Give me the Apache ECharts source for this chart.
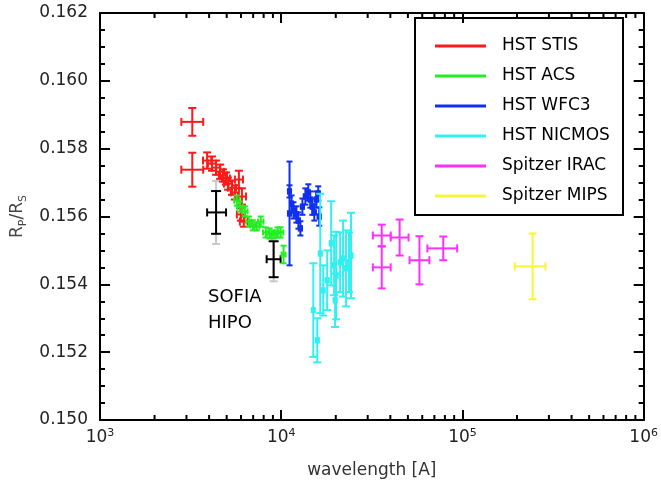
<!DOCTYPE html>
<html>
<head>
<meta charset="utf-8">
<script src="https://cdn.jsdelivr.net/npm/echarts@6/dist/echarts.min.js"></script>
<style>html,body{margin:0;padding:0;background:#fff}#c{width:661px;height:492px}</style>
</head>
<body>
<div id="c"></div>
<script>
// each point: [wavelength, wavelength low, wavelength high, Rp/Rs, Rp/Rs error]
const stisPoints = [
  [3230, 2810, 3710, 0.15879, 0.00041],
  [3230, 2810, 3710, 0.15738, 0.00050],
  [3900, 3700, 4110, 0.15765, 0.00024],
  [4150, 3940, 4370, 0.15756, 0.00021],
  [4370, 4150, 4600, 0.15744, 0.00021],
  [4600, 4370, 4840, 0.15732, 0.00021],
  [4770, 4530, 5020, 0.15721, 0.00018],
  [4960, 4710, 5220, 0.15712, 0.00018],
  [5080, 4830, 5350, 0.15697, 0.00018],
  [5350, 5080, 5630, 0.15685, 0.00021],
  [5840, 5550, 6150, 0.15709, 0.00026],
  [5550, 5270, 5840, 0.15671, 0.00021],
  [6070, 5770, 6390, 0.15659, 0.00024],
  [5990, 5690, 6310, 0.15606, 0.00018],
  [6220, 5910, 6550, 0.15585, 0.00015]
];
const acsPoints = [
  [5690, 5500, 5890, 0.15647, 0.00015],
  [5910, 5710, 6120, 0.15629, 0.00015],
  [6300, 6090, 6520, 0.15615, 0.00015],
  [6630, 6410, 6860, 0.15585, 0.00015],
  [6970, 6730, 7210, 0.15574, 0.00015],
  [7330, 7080, 7590, 0.15571, 0.00012],
  [7710, 7450, 7980, 0.15585, 0.00015],
  [8210, 7930, 8500, 0.15553, 0.00015],
  [8630, 8340, 8930, 0.15550, 0.00015],
  [9080, 8770, 9400, 0.15547, 0.00012],
  [9550, 9230, 9880, 0.15553, 0.00015],
  [9920, 9580, 10270, 0.15553, 0.00015],
  [10300, 10050, 10560, 0.15488, 0.00026]
];
const wfc3Points = [
  [11110, 10890, 11330, 0.15609, 0.00153],
  [11110, 10890, 11330, 0.15674, 0.00018],
  [11400, 11180, 11630, 0.15638, 0.00024],
  [11680, 11450, 11910, 0.15618, 0.00024],
  [12130, 11890, 12370, 0.15606, 0.00024],
  [12440, 12200, 12690, 0.15588, 0.00024],
  [12760, 12510, 13020, 0.15565, 0.00021],
  [13090, 12830, 13350, 0.15629, 0.00024],
  [13590, 13320, 13860, 0.15659, 0.00024],
  [14110, 13830, 14390, 0.15671, 0.00024],
  [14470, 14190, 14760, 0.15650, 0.00024],
  [14840, 14550, 15140, 0.15629, 0.00024],
  [15220, 14920, 15520, 0.15612, 0.00024],
  [15610, 15300, 15920, 0.15650, 0.00024],
  [16010, 15700, 16330, 0.15668, 0.00021],
  [16210, 15890, 16530, 0.15600, 0.00027]
];
const nicmosPoints = [
  [15030, 14810, 15260, 0.15324, 0.00138],
  [15810, 15580, 16050, 0.15235, 0.00065],
  [16420, 16180, 16670, 0.15491, 0.00176],
  [17050, 16800, 17310, 0.15382, 0.00074],
  [17930, 17670, 18200, 0.15412, 0.00088],
  [18860, 18580, 19140, 0.15521, 0.00124],
  [19580, 19290, 19870, 0.15456, 0.00088],
  [19830, 19540, 20130, 0.15353, 0.00079],
  [20090, 19790, 20390, 0.15426, 0.00129],
  [21130, 20820, 21450, 0.15465, 0.00088],
  [21940, 21620, 22270, 0.15476, 0.00112],
  [22790, 22450, 23130, 0.15447, 0.00112],
  [23660, 23310, 24010, 0.15465, 0.00088],
  [24270, 23910, 24630, 0.15485, 0.00126]
];
const iracPoints = [
  [35860, 32030, 40180, 0.15544, 0.00032],
  [35860, 32030, 40180, 0.15450, 0.00062],
  [45010, 40180, 50410, 0.15538, 0.00053],
  [57910, 51050, 65690, 0.15471, 0.00071],
  [78370, 64060, 93500, 0.15506, 0.00035]
];
const mipsPoints = [
  [243700, 194200, 287100, 0.15453, 0.00097]
];
const sofiaPoints = [
  [4370, 3900, 4960, 0.15612, 0.00063],
  [9080, 8310, 9920, 0.15474, 0.00053]
];
const sofiaSysErr = [0.00093, 0.00065];

const seriesNames = ['HST STIS', 'HST ACS', 'HST WFC3', 'HST NICMOS', 'Spitzer IRAC', 'Spitzer MIPS'];
const seriesColors = ['#ff1a1a', '#22ee22', '#1030ee', '#33f0f0', '#ff30ff', '#f6f63a'];
const xMinorTicks = [];
[1000, 10000, 100000].forEach(d => { for (let k = 2; k <= 9; k++) xMinorTicks.push(d * k); });

const FONT = 'DejaVu Sans';

function toData(points) {
  return points.map(p => [p[0], p[3], p[1], p[2], p[3] - p[4], p[3] + p[4]]);
}

function errRender(capX, capY, withX, box) {
  return function (params, api) {
    const x = api.value(0), y = api.value(1);
    const c = api.coord([x, y]);
    const pb = api.coord([x, api.value(4)]);
    const pt = api.coord([x, api.value(5)]);
    const color = api.visual('color');
    const st = { stroke: color, lineWidth: 2, fill: null };
    const ch = [];
    ch.push({ type: 'line', shape: { x1: c[0], y1: pb[1], x2: c[0], y2: pt[1] }, style: st });
    ch.push({ type: 'line', shape: { x1: c[0] - capY, y1: pb[1], x2: c[0] + capY, y2: pb[1] }, style: st });
    ch.push({ type: 'line', shape: { x1: c[0] - capY, y1: pt[1], x2: c[0] + capY, y2: pt[1] }, style: st });
    if (withX) {
      const pl = api.coord([api.value(2), y]);
      const ph = api.coord([api.value(3), y]);
      ch.push({ type: 'line', shape: { x1: pl[0], y1: c[1], x2: ph[0], y2: c[1] }, style: st });
      ch.push({ type: 'line', shape: { x1: pl[0], y1: c[1] - capX, x2: pl[0], y2: c[1] + capX }, style: st });
      ch.push({ type: 'line', shape: { x1: ph[0], y1: c[1] - capX, x2: ph[0], y2: c[1] + capX }, style: st });
    }
    if (box) {
      ch.push({ type: 'rect', shape: { x: c[0] - 2.5, y: c[1] - 3, width: 5, height: 6 }, style: { fill: color } });
    }
    return { type: 'group', children: ch };
  };
}

const caps = [[4, 4, false], [3, 3, false], [3, 3, true], [3, 4, true], [4, 4, false], [4, 4, false]];
const allPoints = [stisPoints, acsPoints, wfc3Points, nicmosPoints, iracPoints, mipsPoints];

const series = [];
// minor log ticks on bottom and top
series.push({
  type: 'custom', silent: true, z: 1,
  data: xMinorTicks.map(v => [v, 0.150]),
  renderItem: function (params, api) {
    const b = api.coord([api.value(0), 0.150]);
    const t = api.coord([api.value(0), 0.162]);
    const st = { stroke: '#000', lineWidth: 2 };
    return { type: 'group', children: [
      { type: 'line', shape: { x1: b[0], y1: b[1], x2: b[0], y2: b[1] - 5 }, style: st },
      { type: 'line', shape: { x1: t[0], y1: t[1], x2: t[0], y2: t[1] + 5 }, style: st }
    ] };
  }
});
// SOFIA systematic (gray) error bars
series.push({
  type: 'custom', name: 'SOFIA sys', z: 2,
  itemStyle: { color: '#c8c8c8' },
  data: sofiaPoints.map((p, i) => [p[0], p[3], p[1], p[2], p[3] - sofiaSysErr[i], p[3] + sofiaSysErr[i]]),
  renderItem: errRender(4, 4, false, false)
});
series.push({
  type: 'custom', name: 'SOFIA HIPO', z: 3,
  itemStyle: { color: '#000' },
  data: toData(sofiaPoints),
  renderItem: errRender(4, 5, true, false)
});
allPoints.forEach((pts, i) => {
  series.push({
    type: 'custom', name: seriesNames[i], z: 4,
    itemStyle: { color: seriesColors[i] },
    data: toData(pts),
    renderItem: errRender(caps[i][0], caps[i][1], true, caps[i][2])
  });
});

const axisLineStyle = { color: '#000', width: 2 };
const option = {
  animation: false,
  backgroundColor: '#fff',
  grid: { left: 100, right: 13, top: 13, bottom: 72 },
  legend: {
    orient: 'vertical', left: 435, top: 36, padding: 0,
    itemWidth: 51, itemHeight: 3, itemGap: 10,
    icon: 'rect',
    textStyle: { fontFamily: FONT, fontSize: 17, color: '#000', lineHeight: 20, padding: [0, 0, 0, 11] },
    data: seriesNames.map((n, i) => ({ name: n, icon: 'rect', itemStyle: { color: seriesColors[i] } }))
  },
  graphic: [
    { type: 'rect', z: 100, shape: { x: 415, y: 18, width: 208, height: 197 }, style: { fill: null, stroke: '#000', lineWidth: 2 } },
    { type: 'text', z: 100, x: 208, y: 310, style: { text: 'SOFIA\nHIPO', font: '18px "DejaVu Sans"', fill: '#000', lineHeight: 26, verticalAlign: 'middle', align: 'left' } }
  ],
  xAxis: [
    {
      type: 'log', logBase: 10, min: 1000, max: 1000000, position: 'bottom',
      axisLine: { lineStyle: axisLineStyle },
      axisTick: { inside: true, length: 10, lineStyle: axisLineStyle },
      splitLine: { show: false },
      axisLabel: {
        margin: 8,
        formatter: v => '{b|10}{s|' + Math.round(Math.log10(v)) + '}',
        rich: {
          b: { fontFamily: FONT, fontSize: 17, color: '#222', lineHeight: 20 },
          s: { fontFamily: FONT, fontSize: 11, color: '#222', verticalAlign: 'top', lineHeight: 20, padding: [0, 0, 8, 0] }
        }
      },
      name: 'wavelength [A]', nameLocation: 'middle', nameGap: 42,
      nameTextStyle: { fontFamily: FONT, fontSize: 17, color: '#333' }
    },
    {
      type: 'log', logBase: 10, min: 1000, max: 1000000, position: 'top',
      axisLine: { lineStyle: axisLineStyle },
      axisTick: { inside: true, length: 10, lineStyle: axisLineStyle },
      axisLabel: { show: false }, splitLine: { show: false }
    }
  ],
  yAxis: [
    {
      type: 'value', min: 0.150, max: 0.162, interval: 0.002, position: 'left',
      axisLine: { lineStyle: axisLineStyle },
      axisTick: { inside: true, length: 10, lineStyle: axisLineStyle },
      minorTick: { show: true, splitNumber: 4, length: 5, lineStyle: axisLineStyle },
      splitLine: { show: false },
      axisLabel: { margin: 12, formatter: v => v.toFixed(3), fontFamily: FONT, fontSize: 17, color: '#222' },
      name: '{n|R}{s|P}{n|/R}{s|S}', nameLocation: 'middle', nameGap: 68,
      nameTextStyle: {
        rich: {
          n: { fontFamily: FONT, fontSize: 17, color: '#444', lineHeight: 22 },
          s: { fontFamily: FONT, fontSize: 11, color: '#444', verticalAlign: 'bottom', lineHeight: 22 }
        }
      }
    },
    {
      type: 'value', min: 0.150, max: 0.162, interval: 0.002, position: 'right',
      axisLine: { lineStyle: axisLineStyle },
      axisTick: { inside: true, length: 10, lineStyle: axisLineStyle },
      minorTick: { show: true, splitNumber: 4, length: 5, lineStyle: axisLineStyle },
      splitLine: { show: false },
      axisLabel: { show: false }
    }
  ],
  series: series
};
const chart = echarts.init(document.getElementById('c'), null, { renderer: 'canvas' });
chart.setOption(option);
</script>
</body>
</html>
